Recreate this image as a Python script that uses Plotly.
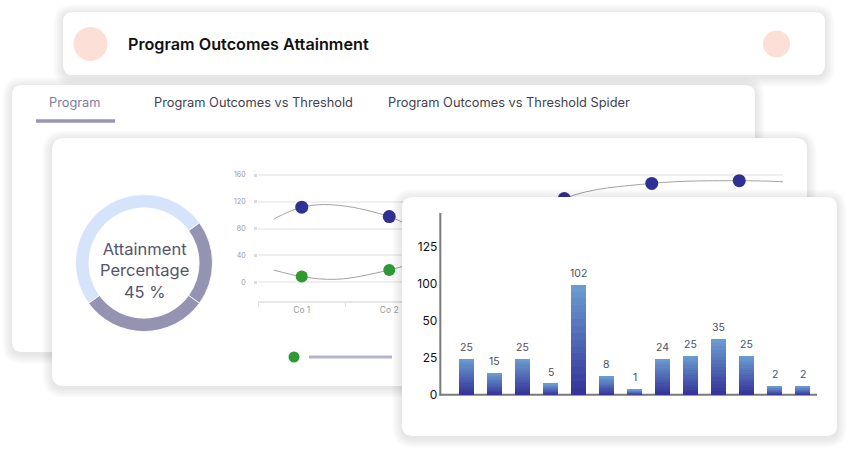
import plotly.graph_objects as go

W, H = 850, 450
FONT = "Inter, Noto Sans, sans-serif"

# ---------------- data ----------------
title_text = "Program Outcomes Attainment"
tab_labels = ["Program", "Program Outcomes vs Threshold", "Program Outcomes vs Threshold Spider"]

donut_labels = ["Attained (part 1)", "Attained (part 2)", "Remaining"]
donut_values = [20, 30, 50]
donut_text = ["Attainment", "Percentage", "45 %"]

co_labels = ["Co 1", "Co 2", "Co 3", "Co 4", "Co 5", "Co 6"]
co_pos = [0, 1, 2, 3, 4, 5]
line_yticks = [0, 40, 80, 120, 160]
blue_values = [112, 98, 40, 125, 147.5, 151.5]
green_values = [8.5, 18.3, 55, 40, 45, 40]
# gray guide curves (pass through the dots)
blue_curve_x = [-0.32, 0, 0.36, 1, 2, 3, 4, 5, 5.5]
blue_curve_y = [94.4, 112, 115.5, 98, 40, 125, 147.5, 151.5, 150]
green_curve_x = [-0.32, 0, 0.4, 1, 2, 3, 4, 5, 5.5]
green_curve_y = [18.3, 8.5, 4.5, 18.3, 55, 40, 45, 40, 40]

bar_pos = list(range(13))
bar_labels = [25, 15, 25, 5, 102, 8, 1, 24, 25, 35, 25, 2, 2]
bar_heights = [24.3, 14.9, 24.3, 7.4, 74.3, 12.4, 3.6, 24.3, 26.4, 37.4, 26.4, 5.6, 5.6]
bar_tickvals = [0, 25, 50, 75, 100]
bar_ticktext = ["0", "25", "50", "100", "125"]

# ---------------- geometry helpers ----------------
def px(x):
    return x / W

def py(y):
    return 1 - y / H

# bar subplot pixel mapping
B_X0, B_DX = 466.5, 28.0
B_Y0, B_DY = 394.7, 1.48

def bx(x):
    return (x - B_X0) / B_DX

def by(y):
    return (B_Y0 - y) / B_DY

def rrect(x0, y0, x1, y1, r, fx, fy):
    return (f"M{fx(x0+r)},{fy(y0)} L{fx(x1-r)},{fy(y0)} Q{fx(x1)},{fy(y0)} {fx(x1)},{fy(y0+r)} "
            f"L{fx(x1)},{fy(y1-r)} Q{fx(x1)},{fy(y1)} {fx(x1-r)},{fy(y1)} "
            f"L{fx(x0+r)},{fy(y1)} Q{fx(x0)},{fy(y1)} {fx(x0)},{fy(y1-r)} "
            f"L{fx(x0)},{fy(y0+r)} Q{fx(x0)},{fy(y0)} {fx(x0+r)},{fy(y0)} Z")

def card(x0, y0, x1, y1, r=10, xref="paper", yref="paper", fx=px, fy=py):
    out = []
    for k in range(6, 0, -1):
        e = k * 1.6
        out.append(dict(type="path", path=rrect(x0 - e, y0 - e + 2, x1 + e, y1 + e + 2, r + e, fx, fy),
                        fillcolor="rgba(0,0,0,0.016)", line=dict(width=0),
                        xref=xref, yref=yref, layer="below"))
    out.append(dict(type="path", path=rrect(x0, y0, x1, y1, r, fx, fy), fillcolor="white",
                    line=dict(width=0), xref=xref, yref=yref, layer="below"))
    return out

fig = go.Figure()

# ---------------- donut ----------------
GRAY = "#9593b2"
LIGHT = "#d5e4fb"
fig.add_trace(go.Pie(values=donut_values, labels=donut_labels, hole=0.805, sort=False,
                     direction="clockwise", rotation=54,
                     marker=dict(colors=[GRAY, GRAY, LIGHT], line=dict(color="white", width=0.8)),
                     textinfo="none", hoverinfo="skip", showlegend=False,
                     domain=dict(x=[px(75.5), px(212.5)], y=[py(331.5), py(194.5)])))

# ---------------- line chart ----------------
fig.add_trace(go.Scatter(x=blue_curve_x, y=blue_curve_y, mode="lines",
                         line=dict(color="#a2a2a2", width=1, shape="spline", smoothing=1),
                         hoverinfo="skip", showlegend=False, xaxis="x", yaxis="y"))
fig.add_trace(go.Scatter(x=green_curve_x, y=green_curve_y, mode="lines",
                         line=dict(color="#a2a2a2", width=1, shape="spline", smoothing=1),
                         hoverinfo="skip", showlegend=False, xaxis="x", yaxis="y"))
fig.add_trace(go.Scatter(x=co_pos, y=blue_values, mode="markers",
                         marker=dict(color="#2f3093", size=13), hoverinfo="skip",
                         showlegend=False, xaxis="x", yaxis="y"))
fig.add_trace(go.Scatter(x=co_pos, y=green_values, mode="markers",
                         marker=dict(color="#2f9a34", size=12), hoverinfo="skip",
                         showlegend=False, xaxis="x", yaxis="y"))

# ---------------- bar chart (vertical gradient via stacked bands) ----------------
N = 16
top_rgb = (108, 158, 210)
bot_rgb = (52, 50, 152)
for k in range(N):
    t = (k + 0.5) / N
    c = tuple(round(bot_rgb[i] + (top_rgb[i] - bot_rgb[i]) * t) for i in range(3))
    fig.add_trace(go.Bar(x=bar_pos, y=[h / N for h in bar_heights], width=0.54,
                         marker=dict(color=f"rgb{c}", line=dict(width=0)),
                         hoverinfo="skip", showlegend=False, xaxis="x2", yaxis="y2"))

# ---------------- shapes ----------------
shapes = []
shapes += card(63, 12, 825, 75, 10)
shapes += [
    dict(type="circle", xref="paper", yref="paper", x0=px(73.5), x1=px(107.5), y0=py(61), y1=py(27),
         fillcolor="#fce0d8", line=dict(width=0), layer="below"),
    dict(type="circle", xref="paper", yref="paper", x0=px(763), x1=px(790), y0=py(57.5), y1=py(30.5),
         fillcolor="#fce0d8", line=dict(width=0), layer="below"),
]
shapes += card(12, 85, 755, 352, 10)
shapes.append(dict(type="line", xref="paper", yref="paper", x0=px(36), x1=px(115), y0=py(121), y1=py(121),
                   line=dict(color="#9896b6", width=3.5), layer="below"))
shapes += card(52, 138, 807, 386, 12)
shapes += [
    dict(type="circle", xref="paper", yref="paper", x0=px(288.5), x1=px(299.5), y0=py(362.5), y1=py(351.5),
         fillcolor="#2f9a34", line=dict(width=0), layer="below"),
    dict(type="line", xref="paper", yref="paper", x0=px(309), x1=px(392), y0=py(357), y1=py(357),
         line=dict(color="#b3b3cf", width=3), layer="below"),
]
# bar card, drawn in the bar subplot so it covers the line chart
shapes += card(402, 197, 837, 436, 11, xref="x2", yref="y2", fx=bx, fy=by)
shapes += [
    dict(type="line", xref="x2", yref="y2", x0=bx(440.3), x1=bx(440.3), y0=by(395.5), y1=by(213),
         line=dict(color="#7a7a7a", width=2), layer="below"),
    dict(type="line", xref="x2", yref="y2", x0=bx(439.3), x1=bx(817), y0=by(394.7), y1=by(394.7),
         line=dict(color="#7a7a7a", width=2), layer="below"),
]

# ---------------- annotations ----------------
ann = []
ann.append(dict(text=title_text, x=px(126), y=py(44), xref="paper", yref="paper", xanchor="left",
                yanchor="middle", showarrow=False,
                font=dict(family=FONT, size=16.2, color="#111111", weight=600)))
for lab, x, col in zip(tab_labels, [47, 152, 386], ["#7e7c9e", "#3f3f4f", "#3f3f4f"]):
    ann.append(dict(text=lab, x=px(x), y=py(102), xref="paper", yref="paper", xanchor="left",
                    yanchor="middle", showarrow=False, font=dict(family=FONT, size=12.8, color=col)))
ann.append(dict(text="<br>".join(donut_text), x=px(144), y=py(270), xref="paper", yref="paper",
                xanchor="center", yanchor="middle", align="center", showarrow=False, borderpad=0,
                font=dict(family=FONT, size=16.5, color="#55546b")))
for x, h, lab in zip(bar_pos, bar_heights, bar_labels):
    ann.append(dict(text=str(lab), x=x, y=h, xref="x2", yref="y2", xanchor="center", yanchor="bottom",
                    yshift=3, showarrow=False, font=dict(family=FONT, size=10.5, color="#4d4d60")))

fig.update_layout(
    width=W, height=H, autosize=False,
    margin=dict(l=0, r=0, t=0, b=0),
    paper_bgcolor="white", plot_bgcolor="rgba(0,0,0,0)",
    barmode="stack", showlegend=False,
    shapes=shapes, annotations=ann,
    font=dict(family=FONT),
    xaxis=dict(domain=[px(258), px(783)], range=[-0.5, 5.5], tickvals=co_pos, ticktext=co_labels,
               showgrid=False, zeroline=False, showline=True, linecolor="#e6e6e6", linewidth=2,
               ticks="", tickfont=dict(size=8.5, color="#9a9a9a"),
               minor=dict(tickvals=[i - 0.5 for i in range(7)], ticks="outside", ticklen=4,
                          tickcolor="#dddddd", tickwidth=1),
               anchor="y", fixedrange=True),
    yaxis=dict(domain=[py(301.08), py(169.64)], range=[-28, 168], tickvals=line_yticks,
               showgrid=True, gridcolor="#efefef", gridwidth=1.5,
               zeroline=True, zerolinecolor="#efefef", zerolinewidth=1.5, showline=False,
               ticks="outside", ticklen=3, tickwidth=3, tickcolor="#dcdcdc", ticklabelstandoff=7,
               tickfont=dict(size=7, color="#9a9a9a"), anchor="x", fixedrange=True),
    xaxis2=dict(domain=[px(390), px(848)], range=[bx(390), bx(848)], showticklabels=False,
                showgrid=False, zeroline=False, showline=False, ticks="", anchor="y2", fixedrange=True),
    yaxis2=dict(domain=[py(448), py(186)], range=[by(448), by(186)], tickvals=bar_tickvals,
                ticktext=bar_ticktext, showgrid=False, zeroline=False, showline=False, ticks="",
                anchor="free", position=px(440.3), side="left", ticklabelstandoff=3,
                tickfont=dict(size=12, color="#111111"), fixedrange=True),
)

fig.write_html("out.html", config={"displayModeBar": False},
               post_script="document.body.style.margin='0px';")
